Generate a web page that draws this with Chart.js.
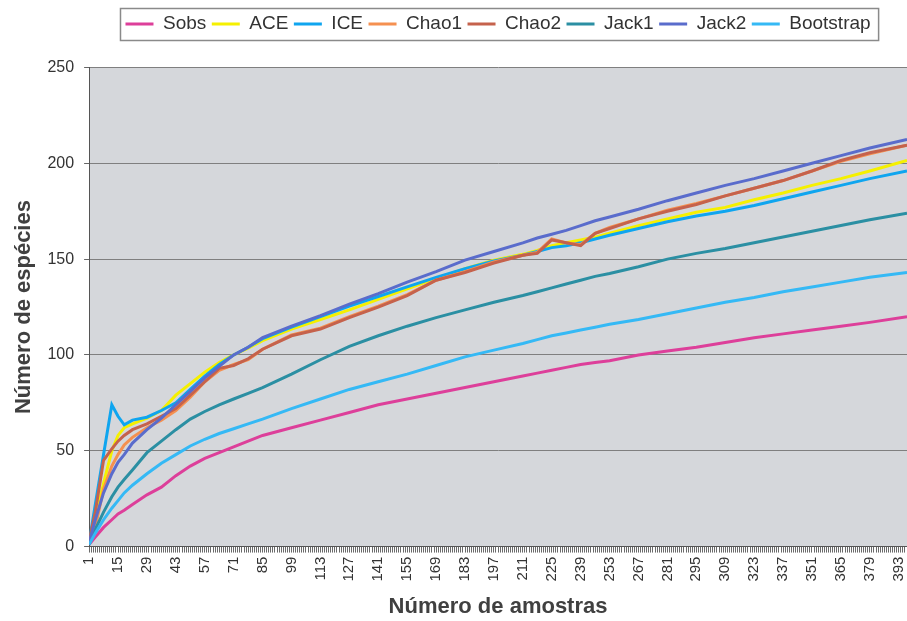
<!DOCTYPE html>
<html lang="pt">
<head>
<meta charset="UTF-8">
<title>Curvas de acumulação de espécies</title>
<script src="https://cdn.jsdelivr.net/npm/chart.js"></script>
<style>
    body { margin: 0; background: #ffffff; }
    #caixa { width: 907px; height: 621px; }
</style>
</head>
<body>
<div id="caixa"><canvas id="grafico"></canvas></div>
<script>
// amostras onde as curvas foram lidas (eixo x)
const amostras = [1, 4, 8, 12, 15, 18, 22, 29, 36, 43, 50, 57, 64, 71, 78, 85, 99, 113, 127, 141, 155, 169, 183, 197, 211, 218, 225, 232, 239, 246, 253, 267, 281, 295, 309, 323, 337, 351, 365, 379, 397];

// valores de cada estimador
const sobs = [1, 5, 10, 14, 17, 19, 22, 27, 31, 37, 42, 46, 49, 52, 55, 58, 62, 66, 70, 74, 77, 80, 83, 86, 89, 90.5, 92, 93.5, 95, 96, 97, 100, 102, 104, 106.5, 109, 111, 113, 115, 117, 120];
const ace = [2, 15, 33, 50, 58, 62, 64, 67, 71, 79, 85, 91, 96, 100, 103.5, 107.5, 113.5, 118.5, 123.5, 129, 134.5, 140, 145, 149.5, 152.5, 154.5, 157, 158.5, 160, 161.5, 163.5, 167.5, 171, 174.5, 177, 181, 184.5, 188.5, 192, 196, 201.5];
const ice = [2, 22, 48, 74, 68, 63.5, 66, 67.5, 71, 75, 82, 89, 95, 100, 104, 108.5, 114.5, 120, 125.5, 130.5, 135.5, 140.5, 145, 149, 152, 154, 156, 157, 158.5, 160.5, 162.5, 166, 169.5, 172.5, 175, 178, 181.5, 185, 188.5, 192, 196];
const chao1 = [2, 10, 30, 42, 48, 53, 57, 62, 66, 71, 78, 86, 92, 95, 97.5, 103, 110.5, 114, 120, 125.5, 131.5, 139, 143.5, 148.5, 152, 153.5, 160.5, 158.5, 157.5, 163.5, 166.5, 171, 175.5, 179, 183, 187, 191, 196, 201, 205, 209.5];
const chao2 = [3, 18, 45, 51, 55, 58, 61, 64, 68, 72, 79, 86, 93, 94.5, 98, 103, 110, 113.5, 119.5, 125, 131, 139, 143, 148, 152, 153, 160, 158.5, 157, 163.5, 166, 171, 175, 178.5, 183, 187, 191, 196, 201.5, 205.5, 209.5];
const jack1 = [1, 9, 18, 26, 31, 35, 40, 49, 55, 61, 66.5, 70.5, 74, 77, 80, 83, 90, 97.5, 104.5, 110, 115, 119.5, 123.5, 127.5, 131, 133, 135, 137, 139, 141, 142.5, 146, 150, 153, 155.5, 158.5, 161.5, 164.5, 167.5, 170.5, 174];
const jack2 = [2, 14, 28, 38, 44, 48, 54, 61, 67, 74, 81, 88, 94, 100, 104, 109, 115, 120.5, 126.5, 132, 138, 143.5, 149.5, 154, 158.5, 161, 163, 165, 167.5, 170, 172, 176, 180.5, 184.5, 188.5, 192, 196, 200, 204, 208, 212.5];
const bootstrap = [1, 7, 14, 20, 24, 28, 32, 38, 43.5, 48, 52.5, 56, 59, 61.5, 64, 66.5, 72, 77, 82, 86, 90, 94.5, 99, 102.5, 106, 108, 110, 111.5, 113, 114.5, 116, 118.5, 121.5, 124.5, 127.5, 130, 133, 135.5, 138, 140.5, 143];

const nomes = ['Sobs', 'ACE', 'ICE', 'Chao1', 'Chao2', 'Jack1', 'Jack2', 'Bootstrap'];
const series = [sobs, ace, ice, chao1, chao2, jack1, jack2, bootstrap];
const cores = ['#dd3f9a', '#f5f000', '#0fa5ef', '#f59050', '#c5624c', '#2b8fa3', '#5a6ccc', '#35b9f5'];

const fonte = "Arial, 'Liberation Sans', sans-serif";

// fundo cinza da área do gráfico e moldura da legenda
const extras = {
    id: 'extras',
    beforeDraw(chart) {
        const a = chart.chartArea;
        const ctx = chart.ctx;
        ctx.save();
        ctx.fillStyle = '#d5d7db';
        ctx.fillRect(a.left, a.top, a.right - a.left, a.bottom - a.top);
        ctx.restore();
    },
    afterDraw(chart) {
        const caixas = chart.legend.legendHitBoxes;
        if (!caixas || !caixas.length) return;
        const prim = caixas[0];
        const ult = caixas[caixas.length - 1];
        const ctx = chart.ctx;
        ctx.save();
        ctx.strokeStyle = '#8a8a8a';
        ctx.lineWidth = 1.5;
        ctx.strokeRect(prim.left - 5, prim.top - 6, ult.left + ult.width + 8 - (prim.left - 5), prim.height + 13);
        ctx.restore();
    }
};

const datasets = series.map(function (valores, i) {
    return {
        label: nomes[i],
        data: valores.map(function (v, j) { return { x: amostras[j], y: v }; }),
        borderColor: cores[i],
        backgroundColor: cores[i],
        borderWidth: 3,
        pointRadius: 0,
        tension: 0,
        order: series.length - 1 - i
    };
});

new Chart(document.getElementById('grafico'), {
    type: 'line',
    data: { datasets: datasets },
    plugins: [extras],
    options: {
        responsive: true,
        maintainAspectRatio: false,
        animation: false,
        layout: { padding: { top: 9, right: 0, bottom: 0, left: 0 } },
        plugins: {
            tooltip: { enabled: false },
            title: { display: true, text: '', weight: 100, padding: { top: 6, bottom: 6 }, font: { size: 10 } },
            legend: {
                position: 'top',
                fullSize: false,
                labels: {
                    color: '#333333',
                    font: { family: fonte, size: 19 },
                    boxWidth: 28,
                    boxHeight: 3,
                    padding: 5.5,
                    sort: function (a, b) { return a.datasetIndex - b.datasetIndex; },
                    generateLabels: function (chart) {
                        return Chart.defaults.plugins.legend.labels.generateLabels(chart).map(function (l) {
                            l.lineWidth = 0;
                            return l;
                        });
                    }
                }
            }
        },
        scales: {
            x: {
                type: 'linear',
                min: 1,
                max: 397,
                afterFit: function (scale) { scale.paddingRight = 0; scale.paddingLeft = 0; },
                ticks: {
                    stepSize: 1,
                    maxTicksLimit: 1000,
                    autoSkip: false,
                    minRotation: 90,
                    maxRotation: 90,
                    padding: 4,
                    color: '#333333',
                    font: { family: fonte, size: 15 },
                    callback: function (v) { return (v - 1) % 14 === 0 ? String(v) : ''; }
                },
                grid: { drawOnChartArea: false, tickLength: 6, color: '#6a6a6a', lineWidth: 1 },
                border: { color: '#555555', width: 1 },
                title: {
                    display: true,
                    text: 'Número de amostras',
                    color: '#404040',
                    font: { family: fonte, size: 22, weight: 'bold' },
                    padding: { top: 8, bottom: 1 }
                }
            },
            y: {
                min: 0,
                max: 250,
                ticks: {
                    stepSize: 50,
                    padding: 10,
                    color: '#333333',
                    font: { family: fonte, size: 16 }
                },
                grid: { color: '#7f7f7f', lineWidth: 1, tickLength: 5, tickColor: '#666666' },
                border: { color: '#555555', width: 1 },
                title: {
                    display: true,
                    text: 'Número de espécies',
                    color: '#404040',
                    font: { family: fonte, size: 22, weight: 'bold' },
                    padding: { top: 11, bottom: 0 }
                }
            }
        }
    }
});
</script>
</body>
</html>
